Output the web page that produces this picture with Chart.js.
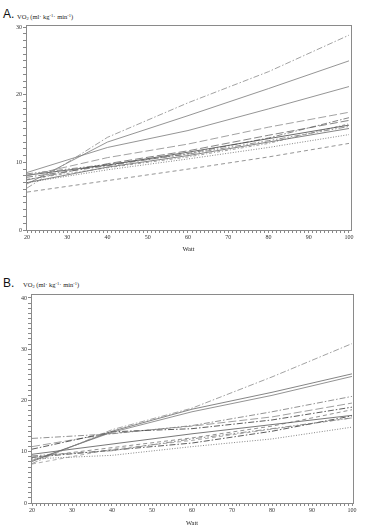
<!DOCTYPE html>
<html><head><meta charset="utf-8">
<script src="https://cdn.jsdelivr.net/npm/chart.js@4/dist/chart.umd.min.js"></script>
<style>
html,body{margin:0;padding:0;background:#fff;width:370px;height:532px;overflow:hidden;}
.cv{position:absolute;left:0;}
.lbl{position:absolute;font-family:"Liberation Sans",Arial,sans-serif;font-size:12px;color:#111;line-height:1;}
.ttl{position:absolute;font-family:"Liberation Serif","Times New Roman",serif;font-size:6.5px;color:#222;line-height:1;white-space:nowrap;}
.ttl sup{font-size:4.5px;vertical-align:2px;}
.ttl sub{font-size:4.5px;vertical-align:-1px;}
</style></head>
<body>
<div class="lbl" style="left:3px;top:8px;">A.</div>
<div class="ttl" style="left:17px;top:14px;">VO<sub>2</sub> (ml· kg<sup>-1</sup>· min<sup>-1</sup>)</div>
<div class="lbl" style="left:3px;top:277px;">B.</div>
<div class="ttl" style="left:23px;top:282px;">VO<sub>2</sub> (ml· kg<sup>-1</sup>· min<sup>-1</sup>)</div>
<canvas id="ca" class="cv" style="top:0px" width="370" height="262"></canvas>
<canvas id="cb" class="cv" style="top:270px" width="370" height="262"></canvas>
<script>
// Shared x categories (Watt)
const watt = [20, 40, 60, 80, 100];
const xTitle = "Watt";

// Panel A series (VO2, ml·kg-1·min-1)
const a1 = [6.2, 13.7, 18.8, 23.4, 28.8];
const a2 = [6.8, 13.0, 16.9, 20.9, 25.0];
const a3 = [8.5, 12.2, 14.7, 17.9, 21.2];
const a4 = [8.0, 10.7, 12.7, 15.2, 17.4];
const a5 = [8.1, 9.6, 11.5, 13.5, 15.5];
const a6 = [7.8, 9.5, 11.3, 13.6, 16.6];
const a7 = [7.4, 9.8, 11.7, 14.0, 16.2];
const a8 = [8.3, 9.7, 11.2, 13.2, 15.3];
const a9 = [7.0, 9.3, 11.0, 13.0, 15.0];
const a10 = [7.0, 8.9, 10.5, 12.2, 14.1];
const a11 = [5.6, 7.3, 9.0, 10.8, 12.8];
const a12 = [7.5, 9.2, 10.8, 12.8, 15.7];

// Panel B series
const b1 = [7.7, 14.3, 18.5, 24.6, 31.1];
const b2 = [8.1, 14.0, 18.3, 21.6, 25.2];
const b3 = [8.3, 13.8, 17.8, 21.0, 24.7];
const b4 = [12.6, 13.5, 15.1, 17.8, 20.8];
const b5 = [10.5, 13.9, 14.5, 16.2, 18.7];
const b6 = [11.0, 13.6, 15.0, 16.8, 19.5];
const b7 = [9.5, 11.5, 13.5, 15.3, 17.1];
const b8 = [8.9, 10.8, 12.7, 15.0, 18.2];
const b9 = [9.2, 10.2, 12.5, 14.5, 16.6];
const b10 = [8.9, 10.3, 11.7, 14.0, 17.0];
const b11 = [8.6, 9.3, 11.0, 12.5, 14.8];
const b12 = [7.6, 10.5, 12.2, 14.4, 16.6];

const seriesA = [a1,a2,a3,a4,a5,a6,a7,a8,a9,a10,a11,a12];
const seriesB = [b1,b2,b3,b4,b5,b6,b7,b8,b9,b10,b11,b12];

// Styles (separate from data)
const DASHDOT=[6,2,1.5,2], LONG=[8,3], DASH=[4,3], DOT=[1,1.6], DDD=[6,2,1.5,2,1.5,2], SOLID=[], SDD=[3,2,1,2];
const stylesA = [
  [DASHDOT,'#8a8a8a'],[SOLID,'#7a7a7a'],[SOLID,'#7a7a7a'],[LONG,'#8a8a8a'],[SOLID,'#444'],[DASHDOT,'#666'],
  [LONG,'#666'],[DDD,'#777'],[SOLID,'#666'],[DOT,'#666'],[DASH,'#7a7a7a'],[SDD,'#888']
];
const stylesB = [
  [DASHDOT,'#8a8a8a'],[SOLID,'#666'],[SOLID,'#777'],[DASHDOT,'#777'],[DASHDOT,'#333'],[LONG,'#888'],
  [SOLID,'#555'],[DASH,'#777'],[DDD,'#777'],[DASHDOT,'#333'],[DOT,'#666'],[DASH,'#999']
];

const frame = {
  id:'frame',
  afterDraw(c){
    const {ctx, chartArea:a} = c;
    ctx.save(); ctx.strokeStyle='#8a8a8a'; ctx.lineWidth=1;
    ctx.strokeRect(Math.round(a.left)+0.5, Math.round(a.top)+0.5, Math.round(a.right-a.left), Math.round(a.bottom-a.top));
    ctx.restore();
  }
};

function makeChart(id, series, styles, cfg){
  const datasets = series.map((s,i)=>({
    data: s.map((v,j)=>({x:watt[j], y:v})),
    borderColor: styles[i][1], borderDash: styles[i][0],
    borderWidth: 0.8, pointRadius: 0, fill:false, tension:0
  }));
  const tickFont = {family:'"Liberation Serif", serif', size:6};
  new Chart(document.getElementById(id), {
    type:'line',
    data:{datasets},
    plugins:[frame],
    options:{
      responsive:false, animation:false, devicePixelRatio:1,
      layout:{padding:{top:cfg.top, right:cfg.right, left:0, bottom:0}},
      plugins:{legend:{display:false}, tooltip:{enabled:false}},
      scales:{
        x:{type:'linear', min:cfg.xmin, max:cfg.xmax,
          afterFit(s){ s.height = cfg.xh; },
          grid:{drawOnChartArea:false, tickLength:3, color:'#888', tickColor:'#888'},
          border:{color:'#8a8a8a'},
          ticks:{stepSize:1, includeBounds:false, autoSkip:false, maxRotation:0, minRotation:0, padding:1, font:tickFont, color:'#333',
            callback:(v)=> (v%10===0 ? String(v) : '')},
          title:{display:true, text:xTitle, font:{family:'"Liberation Serif", serif', size:6.5}, color:'#222', padding:{top:0,bottom:cfg.tpad}}
        },
        y:{type:'linear', min:0, max:cfg.ymax,
          afterFit(s){ s.width = cfg.yw; },
          grid:{drawOnChartArea:false, tickLength:3, color:'#888', tickColor:'#888'},
          border:{color:'#8a8a8a'},
          ticks:{stepSize:1, includeBounds:false, autoSkip:false, padding:1, font:tickFont, color:'#333',
            callback:(v)=> (v%10===0 ? String(v) : '')}
        }
      }
    }
  });
}

makeChart('ca', seriesA, stylesA, {top:25, right:19, xmin:19.75, xmax:100.5, ymax:30.3, xh:32, yw:26, tpad:9});
makeChart('cb', seriesB, stylesB, {top:24, right:17, xmin:19.75, xmax:100.25, ymax:40.78, xh:29, yw:31, tpad:5});
</script>
</body></html>
